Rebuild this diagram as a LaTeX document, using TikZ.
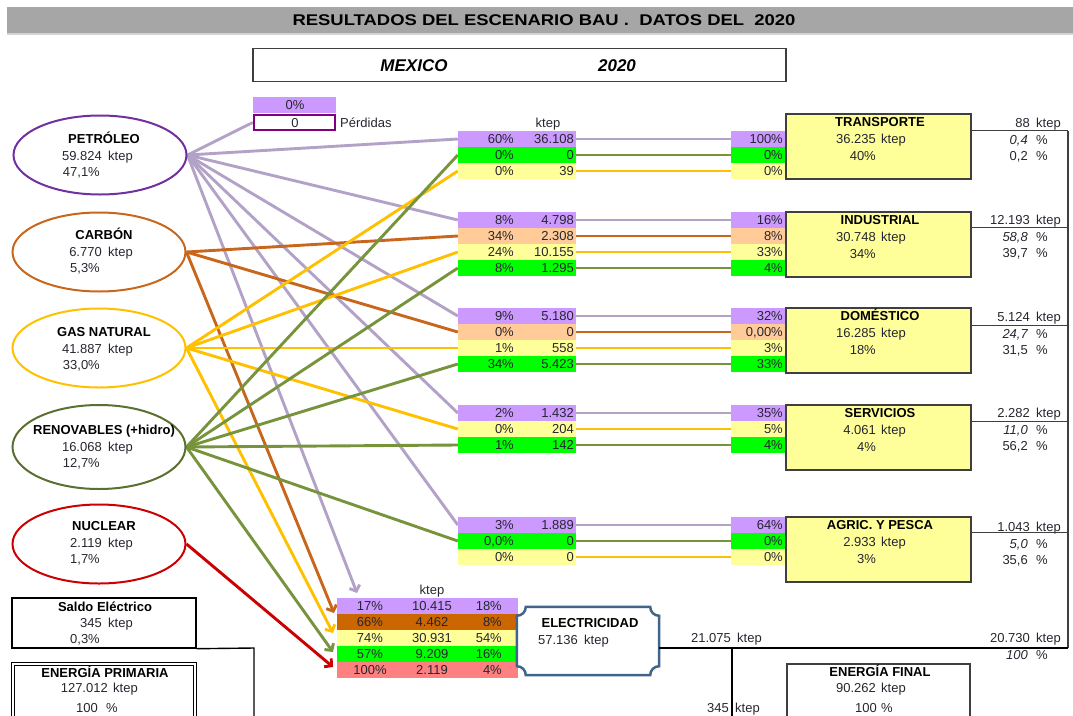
\documentclass[tikz,border=0pt]{standalone}
\usepackage{fontspec}
\setmainfont{Liberation Sans}
\newfontfamily\titlefont[FakeStretch=1.19]{Liberation Sans}
\usetikzlibrary{shapes.geometric,arrows.meta,backgrounds,calc}

\definecolor{cPur}{HTML}{CC99FF}
\definecolor{cOra}{HTML}{FFCC99}
\definecolor{cYel}{HTML}{FFFF99}
\definecolor{cGrn}{HTML}{00FF00}
\definecolor{cBrn}{HTML}{CC6600}
\definecolor{cRed}{HTML}{FF8080}
\definecolor{lP}{HTML}{B3A2C7}
\definecolor{lC}{HTML}{C8661C}
\definecolor{lG}{HTML}{FFC000}
\definecolor{lR}{HTML}{77933C}
\definecolor{lN}{HTML}{CC0000}
\definecolor{ePet}{HTML}{7030A0}
\definecolor{eRen}{HTML}{5A7030}
\definecolor{txtc}{HTML}{262630}
\definecolor{elecb}{HTML}{41648A}
\definecolor{boxb}{HTML}{3F3F3F}
\definecolor{band}{HTML}{A6A6A6}
\definecolor{bandl}{HTML}{D4D4D4}
\definecolor{perdb}{HTML}{800080}

\tikzset{
  txt/.style={font=\fontsize{13}{15}\selectfont, text=txtc, inner sep=0pt},
  btxt/.style={txt, font=\fontsize{13}{15}\selectfont\bfseries, text=black},
  itxt/.style={txt, font=\fontsize{13}{15}\selectfont\itshape},
  cell/.style={inner sep=0pt, minimum height=16pt, draw=none},
  cellL/.style={cell, minimum width=118pt},
  cellR/.style={cell, minimum width=54pt},
  cellE/.style={cell, minimum width=181pt},
  src/.style={ellipse, minimum width=173pt, minimum height=79pt, line width=2pt, inner sep=0pt},
  ln/.style={line width=2.9pt},
  arr/.style={ln, -{Straight Barb[length=5pt,width=11pt]}},
  sbox/.style={draw=boxb, fill=cYel, line width=1.6pt, minimum width=185pt, minimum height=65pt, inner sep=0pt},
}

% left table row: name, top, fill, pct, value
\newcommand\lrow[5]{%
  \node[cellL, fill=#3] (#1) at (517,{#2+8}) {};
  \node[txt, anchor=base east] (#1a) at (514,{#2+12.5}) {#4};
  \node[txt, anchor=base east] (#1b) at (574,{#2+12.5}) {#5};}
% right small column row: name, top, fill, pct
\newcommand\rrow[4]{%
  \node[cellR, fill=#3] (#1) at (758,{#2+8}) {};
  \node[txt, anchor=base east] (#1a) at (783,{#2+12.5}) {#4};}
% electricity table row: name, top, fill, p1, value, p2
\newcommand\erow[6]{%
  \node[cellE, fill=#3] (#1) at (427.5,{#2+8}) {};
  \node[txt, anchor=base] (#1a) at (370,{#2+12.5}) {#4};
  \node[txt, anchor=base] (#1b) at (432,{#2+12.5}) {#5};
  \node[txt, anchor=base east] (#1c) at (502,{#2+12.5}) {#6};}
% source ellipse texts: name, title centre y, title, number, pct
\newcommand\srctext[5]{%
  \node[btxt, anchor=base] (#1T) at (104,{#2+4.5}) {#3};
  \node[txt, anchor=base east] (#1N) at (102,{#2+21}) {#4};
  \node[txt, anchor=base west] (#1U) at (108,{#2+21}) {ktep};
  \node[txt, anchor=base east] (#1P) at (100,{#2+37.5}) {#5};}
% sector box: name, top, title, number, pct
\newcommand\sector[5]{%
  \node[sbox] (#1) at (878.5,{#2+32.5}) {};
  \node[btxt, anchor=base] (#1T) at (880,{#2+12.5}) {#3};
  \node[txt, anchor=base east] (#1N) at (876,{#2+29.5}) {#4};
  \node[txt, anchor=base west] (#1U) at (881,{#2+29.5}) {ktep};
  \node[txt, anchor=base east] (#1P) at (876,{#2+46}) {#5};}
% side values: name, ktep line centre y, number, pct1 (italic), pct2
\newcommand\side[5]{%
  \node[txt, anchor=base east] (#1a) at (1030,{#2+4.5}) {#3};
  \node[txt, anchor=base west] (#1b) at (1036,{#2+4.5}) {ktep};
  \node[itxt, anchor=base east] (#1c) at (1028,{#2+21}) {#4};
  \node[txt, anchor=base west] (#1d) at (1036,{#2+21}) {\%};
  \node[txt, anchor=base east] (#1e) at (1028,{#2+37.5}) {#5};
  \node[txt, anchor=base west] (#1f) at (1036,{#2+37.5}) {\%};}

\begin{document}
\begin{tikzpicture}[x=1pt,y=-1pt]
\useasboundingbox (0,0) rectangle (1073,715);

% ---- title ----
\node[fill=bandl, minimum width=1066pt, minimum height=28pt, inner sep=0pt] (bandL) at (540,21) {};
\node[fill=band, minimum width=1066pt, minimum height=25.5pt, inner sep=0pt] (band) at (540,19.75) {};
\node[anchor=base, inner sep=0pt, font=\titlefont\fontsize{15.5}{18}\selectfont\bfseries, text=black] (title) at (544,25.5) {RESULTADOS DEL ESCENARIO BAU .\ \ DATOS DEL\ \ 2020};

\node[draw=boxb, line width=1.5pt, minimum width=533pt, minimum height=33pt, inner sep=0pt] (mex) at (519.5,65) {};
\node[anchor=base, inner sep=0pt, font=\fontsize{17}{20}\selectfont\bfseries\itshape] (mexT) at (414,71.5) {MEXICO};
\node[anchor=base, inner sep=0pt, font=\fontsize{17}{20}\selectfont\bfseries\itshape] (mexY) at (617,71.5) {2020};

% ---- perdidas ----
\node[cell, fill=cPur, minimum width=83pt] (perdP) at (294.5,105) {};
\node[txt, anchor=base] (perdPa) at (295,109.5) {0\%};
\node[draw=perdb, line width=2.5pt, minimum width=81pt, minimum height=15pt, inner sep=0pt] (perd) at (294.5,122.5) {};
\node[txt, anchor=base] (perda) at (295,127) {0};
\node[txt, anchor=base west] (perdL) at (340,127) {Pérdidas};

% ---- sources ----
\node[src, draw=ePet] (pet) at (100,155) {};
\srctext{pet}{139}{PETRÓLEO}{59.824}{47,1\%}
\node[src, draw=lC] (car) at (99,252) {};
\srctext{car}{235}{CARBÓN}{6.770}{5,3\%}
\node[src, draw=lG] (gas) at (99,348) {};
\srctext{gas}{332}{GAS NATURAL}{41.887}{33,0\%}
\node[src, draw=eRen, minimum height=84pt] (ren) at (99,447) {};
\srctext{ren}{430}{RENOVABLES (+hidro)}{16.068}{12,7\%}
\node[src, draw=lN] (nuc) at (99,544) {};
\srctext{nuc}{526}{NUCLEAR}{2.119}{1,7\%}

% ---- left tables ----
\node[txt, anchor=base] (kt1) at (548,127.5) {ktep};
\lrow{tP}{131}{cPur}{60\%}{36.108}
\lrow{tG}{147}{cGrn}{0\%}{0}
\lrow{tY}{163}{cYel}{0\%}{39}
\lrow{iP}{212}{cPur}{8\%}{4.798}
\lrow{iO}{228}{cOra}{34\%}{2.308}
\lrow{iY}{244}{cYel}{24\%}{10.155}
\lrow{iG}{260}{cGrn}{8\%}{1.295}
\lrow{dP}{308}{cPur}{9\%}{5.180}
\lrow{dO}{324}{cOra}{0\%}{0}
\lrow{dY}{340}{cYel}{1\%}{558}
\lrow{dG}{356}{cGrn}{34\%}{5.423}
\lrow{sP}{405}{cPur}{2\%}{1.432}
\lrow{sY}{421}{cYel}{0\%}{204}
\lrow{sG}{437}{cGrn}{1\%}{142}
\lrow{aP}{517}{cPur}{3\%}{1.889}
\lrow{aG}{533}{cGrn}{0,0\%}{0}
\lrow{aY}{549}{cYel}{0\%}{0}

% ---- right small columns ----
\rrow{tPr}{131}{cPur}{100\%}
\rrow{tGr}{147}{cGrn}{0\%}
\rrow{tYr}{163}{cYel}{0\%}
\rrow{iPr}{212}{cPur}{16\%}
\rrow{iOr}{228}{cOra}{8\%}
\rrow{iYr}{244}{cYel}{33\%}
\rrow{iGr}{260}{cGrn}{4\%}
\rrow{dPr}{308}{cPur}{32\%}
\rrow{dOr}{324}{cOra}{0,00\%}
\rrow{dYr}{340}{cYel}{3\%}
\rrow{dGr}{356}{cGrn}{33\%}
\rrow{sPr}{405}{cPur}{35\%}
\rrow{sYr}{421}{cYel}{5\%}
\rrow{sGr}{437}{cGrn}{4\%}
\rrow{aPr}{517}{cPur}{64\%}
\rrow{aGr}{533}{cGrn}{0\%}
\rrow{aYr}{549}{cYel}{0\%}

% ---- sector boxes ----
\sector{tra}{114}{TRANSPORTE}{36.235}{40\%}
\sector{ind}{212}{INDUSTRIAL}{30.748}{34\%}
\sector{dom}{308}{DOMÉSTICO}{16.285}{18\%}
\sector{ser}{405}{SERVICIOS}{4.061}{4\%}
\sector{agr}{517}{AGRIC. Y PESCA}{2.933}{3\%}

% ---- side values ----
\side{vt}{123}{88}{0,4}{0,2}
\side{vi}{220}{12.193}{58,8}{39,7}
\side{vd}{317}{5.124}{24,7}{31,5}
\side{vs}{413}{2.282}{11,0}{56,2}
\side{va}{527}{1.043}{5,0}{35,6}
\node[txt, anchor=base east] (vba) at (1030,642.5) {20.730};
\node[txt, anchor=base west] (vbb) at (1036,642.5) {ktep};
\node[itxt, anchor=base east] (vbc) at (1028,659.5) {100};
\node[txt, anchor=base west] (vbd) at (1036,659.5) {\%};

% ---- electricity ----
\node[txt, anchor=base] (kt2) at (432,594.5) {ktep};
\erow{eP}{598}{cPur}{17\%}{10.415}{18\%}
\erow{eB}{614}{cBrn}{66\%}{4.462}{8\%}
\erow{eY}{630}{cYel}{74\%}{30.931}{54\%}
\erow{eG}{646}{cGrn}{57\%}{9.209}{16\%}
\erow{eR}{662}{cRed}{100\%}{2.119}{4\%}

\node[minimum width=142pt, minimum height=68pt, inner sep=0pt] (elec) at (588,641) {};
\draw[draw=elecb, line width=2.5pt, fill=white]
  ([xshift=9pt]elec.north west) -- ([xshift=-9pt]elec.north east)
  arc[start angle=180, end angle=270, radius=9pt]
  -- ([yshift=9pt]elec.south east)
  arc[start angle=90, end angle=180, radius=9pt]
  -- ([xshift=9pt]elec.south west)
  arc[start angle=0, end angle=90, radius=9pt]
  -- ([yshift=-9pt]elec.north west)
  arc[start angle=270, end angle=360, radius=9pt] -- cycle;
\node[btxt, anchor=base] (elecT) at (590,627.5) {ELECTRICIDAD};
\node[txt, anchor=base east] (elecN) at (578,644) {57.136};
\node[txt, anchor=base west] (elecU) at (584,644) {ktep};

\node[txt, anchor=base east] (e21a) at (731,642.5) {21.075};
\node[txt, anchor=base west] (e21b) at (737,642.5) {ktep};
\node[txt, anchor=base east] (e345a) at (729,712.5) {345};
\node[txt, anchor=base west] (e345b) at (735,712.5) {ktep};

% ---- saldo / primaria / final ----
\node[draw=black, line width=1.4pt, minimum width=184pt, minimum height=50pt, inner sep=0pt] (saldo) at (104,623) {};
\node[btxt, anchor=base] (saldoT) at (105,611.5) {Saldo Eléctrico};
\node[txt, anchor=base east] (saldoN) at (102,627.5) {345};
\node[txt, anchor=base west] (saldoU) at (108,627.5) {ktep};
\node[txt, anchor=base east] (saldoP) at (100,643.5) {0,3\%};
\coordinate (sc) at (254,648);
\coordinate (sb) at (254,720);
\draw[line width=1.4pt] (saldo.south east) -- (sc) -- (sb);

\node[draw=black, double, double distance=1.3pt, line width=1pt, minimum width=182pt, minimum height=80pt, inner sep=0pt] (eprim) at (104,704) {};
\node[btxt, anchor=base] (eprimT) at (105,677) {ENERGÍA PRIMARIA};
\node[txt, anchor=base east] (eprimN) at (108,692.5) {127.012};
\node[txt, anchor=base west] (eprimU) at (113,692.5) {ktep};
\node[txt, anchor=base east] (eprimP) at (98,712) {100};
\node[txt, anchor=base west] (eprimQ) at (106,712) {\%};

\node[draw=boxb, line width=2.4pt, minimum width=183pt, minimum height=80pt, inner sep=0pt] (efin) at (878.5,704) {};
\node[btxt, anchor=base] (efinT) at (880,676.5) {ENERGÍA FINAL};
\node[txt, anchor=base east] (efinN) at (876,692.5) {90.262};
\node[txt, anchor=base west] (efinU) at (881,692.5) {ktep};
\node[txt, anchor=base east] (efinP) at (877,712.5) {100};
\node[txt, anchor=base west] (efinQ) at (881,712.5) {\%};

% ---- right-hand collector lines ----
\coordinate (rtop) at (1068,131);
\coordinate (rbot) at (1068,648);
\coordinate (jt) at (732,648);
\coordinate (jb) at (732,720);
\draw[line width=1.2pt, boxb] (rtop) -- (rbot);
\foreach \b/\d in {tra/17, ind/16, dom/18, ser/17, agr/16}{
  \draw[line width=1.2pt, boxb] ([yshift=-\d pt]\b.north east) -- ([yshift=-\d pt]\b.north east -| rtop);
}
\coordinate (eRt) at ([yshift=-7pt]elec.east);
\draw[line width=1.2pt, black] (eRt) -- (eRt -| rbot);
\draw[line width=1.2pt, black] (jt) -- (jb);

% ---- arrow end points ----
\coordinate (tipP) at (357,593);
\coordinate (tipC) at (334,613);
\coordinate (tipG) at (333,633);
\coordinate (tipR) at (333,652);
\coordinate (tipN) at (333,667);

% ---- connectors ----
\begin{scope}[on background layer]
  \foreach \r in {tP, iP, dP, sP, aP}{ \draw[ln, lP] (\r.east) -- (\r r.west); }
  \foreach \r in {iO, dO}{ \draw[ln, lC] (\r.east) -- (\r r.west); }
  \foreach \r in {tY, iY, dY, sY, aY}{ \draw[ln, lG] (\r.east) -- (\r r.west); }
  \foreach \r in {tG, iG, dG, sG, aG}{ \draw[ln, lR] (\r.east) -- (\r r.west); }

  \foreach \r in {perd, tP, iP, dP, sP, aP}{ \draw[ln, lP] (pet.east) -- (\r.west); }
  \draw[arr, lP] (pet.east) -- (tipP);
  \foreach \r in {iO, dO}{ \draw[ln, lC] (car.east) -- (\r.west); }
  \draw[arr, lC] (car.east) -- (tipC);
  \foreach \r in {tY, iY, dY, sY}{ \draw[ln, lG] (gas.east) -- (\r.west); }
  \draw[arr, lG] (gas.east) -- (tipG);
  \foreach \r in {tG, iG, dG, sG, aG}{ \draw[ln, lR] (ren.east) -- (\r.west); }
  \draw[arr, lR] (ren.east) -- (tipR);
  \draw[arr, lN] (nuc.east) -- (tipN);
\end{scope}
\end{tikzpicture}
\end{document}
